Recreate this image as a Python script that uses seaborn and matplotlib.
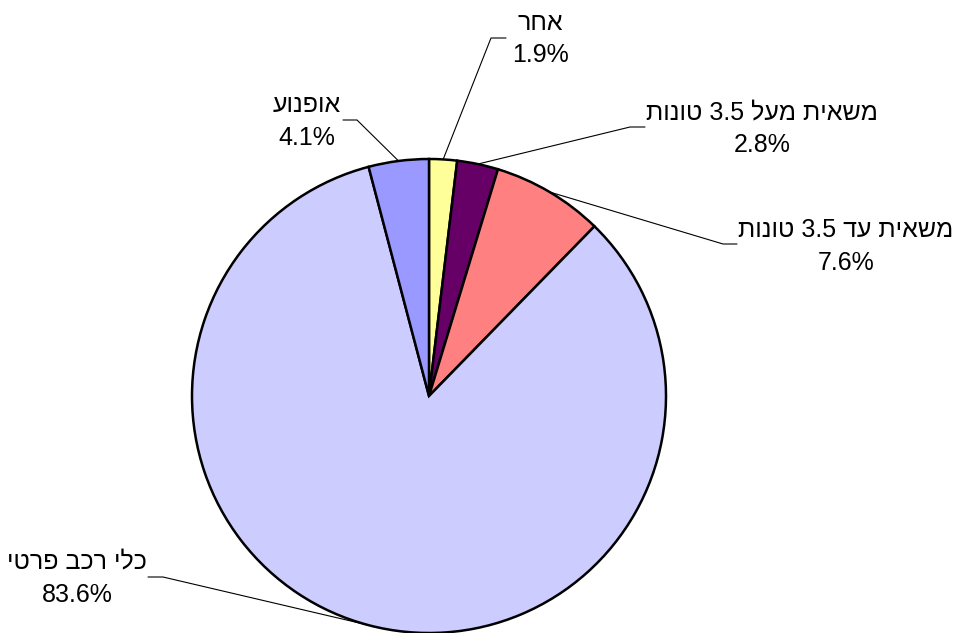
import numpy as np
import matplotlib
matplotlib.use("Agg")
import matplotlib.pyplot as plt
import seaborn as sns

# Road accident involvement by vehicle type (share of total, %)
categories = ["אחר", "משאית מעל 3.5 טונות", "משאית עד 3.5 טונות", "כלי רכב פרטי", "אופנוע"]
shares = [1.9, 2.8, 7.6, 83.6, 4.1]
colors = ["#FFFF99", "#660066", "#FF8080", "#CCCCFF", "#9999FF"]

sns.set_theme(style="white")
plt.rcParams["font.family"] = ["Liberation Sans", "DejaVu Sans"]


def visual(s):
    """Reorder a Hebrew string for left-to-right glyph placement."""
    out = []
    for w in reversed(s.split(" ")):
        if any("\u0590" <= c <= "\u05ff" for c in w):
            out.append(w[::-1])
        else:
            out.append(w)
    return " ".join(out)


W, H = 957, 633
fig = plt.figure(figsize=(W / 100, H / 100), dpi=100)
ax = fig.add_axes([0, 0, 1, 1])

cx, cy, r = 429, H - 396, 237
wedges, _ = ax.pie(
    shares,
    colors=sns.color_palette(colors),
    startangle=90,
    counterclock=False,
    center=(cx, cy),
    radius=r,
    wedgeprops=dict(edgecolor="black", linewidth=1.8),
    frame=True,
)
ax.set_xlim(0, W)
ax.set_ylim(0, H)
ax.set_aspect("equal")
ax.axis("off")

# label layout: (text centre x, name baseline, value baseline, elbow x, elbow y, tail x)
layout = [
    (540, 30, 62, 491, 38, 506),
    (762, 119, 152, 630, 127, 645),
    (846, 237, 270, 723, 244, 737),
    (77, 568, 602, 163, 577, 148),
    (307, 112, 145, 357, 120, 343),
]

for w, name, val, (tx, nb, vb, ex, ey, hx) in zip(wedges, categories, shares, layout):
    mid = np.deg2rad((w.theta1 + w.theta2) / 2)
    px, py = cx + r * np.cos(mid), cy + r * np.sin(mid)
    ax.plot([px, ex, hx], [py, H - ey, H - ey], color="black", lw=0.8,
            solid_joinstyle="miter", zorder=3)
    ax.text(tx, H - nb, visual(name), ha="center", va="baseline",
            fontsize=18, color="black")
    ax.text(tx, H - vb, f"{val:.1f}%", ha="center", va="baseline",
            fontsize=18, color="black")

fig.savefig("out.png", dpi=100, facecolor="white")
